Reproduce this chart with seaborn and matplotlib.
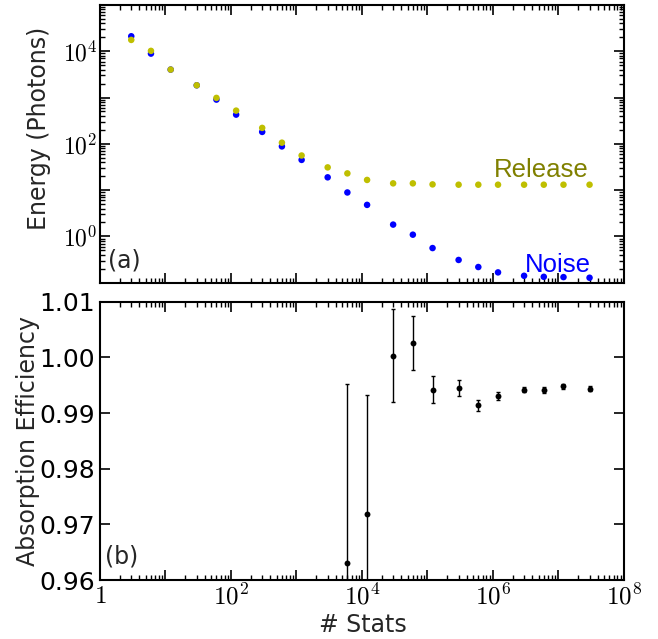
import numpy as np
import pandas as pd
import seaborn as sns
import matplotlib
matplotlib.use("Agg")
import matplotlib.pyplot as plt
from matplotlib.ticker import FixedLocator, FuncFormatter, LogLocator, NullFormatter

# Number of stats (x) shared by both panels
STATS = [3, 6, 12, 30, 60, 120, 300, 600, 1200, 3000, 6000, 12000, 30000, 60000,
         1.2e5, 3e5, 6e5, 1.2e6, 3e6, 6e6, 1.2e7, 3e7]

# (a) energies in photons
NOISE = [21100, 8900, 4020, 1840, 903, 428, 181, 88, 45, 18.9, 8.9, 4.8, 1.8, 1.09,
         0.56, 0.31, 0.218, 0.167, 0.141, 0.134, 0.132, 0.128]
RELEASE = [17600, 10200, 4020, 1840, 983, 522, 221, 106, 56, 31, 23, 16.6, 14.0, 14.0,
           13.3, 13.1, 13.1, 13.1, 13.1, 13.1, 13.1, 13.1]

# (b) absorption efficiency, from the 11th stats point on
EFF_STATS = STATS[10:]
EFF = [0.9630, 0.9718, 1.0003, 1.0026, 0.9942, 0.9945, 0.9914, 0.9931, 0.9942, 0.9941,
       0.9948, 0.9944]
EFF_ERR = [0.0322, 0.0215, 0.0083, 0.0048, 0.0024, 0.0014, 0.0010, 0.0007, 0.0005,
           0.0005, 0.0004, 0.0004]

X_TICK_LABELS = {0: "$1$", 2: "$10^{2}$", 4: "$10^{4}$", 6: "$10^{6}$", 8: "$10^{8}$"}
Y_TICK_LABELS = {0: "$10^{0}$", 2: "$10^{2}$", 4: "$10^{4}$"}

sns.set_style("ticks")
plt.rcParams.update({
    "font.family": ["DejaVu Sans"],
    "mathtext.fontset": "cm",
    "xtick.direction": "in",
    "ytick.direction": "in",
    "xtick.top": True,
    "ytick.right": True,
    "axes.edgecolor": "black",
    "axes.linewidth": 1.5,
})

energy = pd.DataFrame({
    "stats": STATS * 2,
    "energy": NOISE + RELEASE,
    "kind": ["Noise"] * len(NOISE) + ["Release"] * len(RELEASE),
})
eff = pd.DataFrame({"stats": EFF_STATS, "eff": EFF, "err": EFF_ERR})

fig = plt.figure(figsize=(6.58, 6.39), dpi=100)
ax1 = fig.add_axes([0.152, 0.5576, 0.796, 0.4346])
ax2 = fig.add_axes([0.152, 0.0923, 0.796, 0.4356])

sns.scatterplot(data=energy, x="stats", y="energy", hue="kind",
                palette={"Noise": "#0000ff", "Release": "#bfbf00"},
                s=22, linewidth=0, legend=False, ax=ax1)
ax1.set_xscale("log")
ax1.set_yscale("log")
ax1.set_xlim(1, 1e8)
ax1.set_ylim(0.1, 1e5)
ax1.set_xlabel("")
ax1.set_ylabel("Energy (Photons)", fontsize=17)
ax1.yaxis.set_label_coords(-0.094, 0.557)
ax1.text(0.752, 0.382, "Release", transform=ax1.transAxes, color="#808000",
         fontsize=18.5, family="Liberation Sans", va="baseline")
ax1.text(0.812, 0.040, "Noise", transform=ax1.transAxes, color="#0000ff",
         fontsize=18.5, family="Liberation Sans", va="baseline")
ax1.text(0.015, 0.055, "(a)", transform=ax1.transAxes, fontsize=17, va="baseline")

ax2.errorbar(eff["stats"], eff["eff"], yerr=eff["err"], fmt="none",
             ecolor="black", elinewidth=1, capsize=1.5)
sns.scatterplot(data=eff, x="stats", y="eff", color="black", s=18,
                linewidth=0, ax=ax2)
ax2.set_xscale("log")
ax2.set_xlim(1, 1e8)
ax2.set_ylim(0.96, 1.01)
ax2.set_yticks([0.96, 0.97, 0.98, 0.99, 1.00, 1.01])
ax2.set_yticklabels(["0.96", "0.97", "0.98", "0.99", "1.00", "1.01"], fontsize=18)
ax2.set_xlabel("# Stats", fontsize=17)
ax2.xaxis.set_label_coords(0.501, -0.118)
ax2.set_ylabel("Absorption Efficiency", fontsize=17)
ax2.yaxis.set_label_coords(-0.115, 0.5)
ax2.text(0.01, 0.06, "(b)", transform=ax2.transAxes, fontsize=17, va="baseline")

for ax in (ax1, ax2):
    ax.xaxis.set_major_locator(FixedLocator([10.0 ** k for k in range(9)]))
    ax.xaxis.set_minor_locator(LogLocator(base=10, subs=np.arange(2, 10), numticks=20))
    ax.xaxis.set_minor_formatter(NullFormatter())
    ax.tick_params(which="major", length=7, width=1.2, colors="black")
    ax.tick_params(which="minor", length=3.5, width=1, colors="black")
    for sp in ax.spines.values():
        sp.set_visible(True)
        sp.set_color("black")

ax1.xaxis.set_major_formatter(NullFormatter())
ax2.xaxis.set_major_formatter(FuncFormatter(
    lambda v, p: X_TICK_LABELS.get(int(round(np.log10(v))), "")))
ax2.tick_params(axis="x", labelsize=18, pad=3)

ax1.yaxis.set_major_locator(FixedLocator([10.0 ** k for k in range(-1, 6)]))
ax1.yaxis.set_minor_locator(LogLocator(base=10, subs=np.arange(2, 10), numticks=20))
ax1.yaxis.set_minor_formatter(NullFormatter())
ax1.yaxis.set_major_formatter(FuncFormatter(
    lambda v, p: Y_TICK_LABELS.get(int(round(np.log10(v))), "")))
ax1.tick_params(axis="y", labelsize=17, pad=2)

fig.savefig("out.png", dpi=100)
